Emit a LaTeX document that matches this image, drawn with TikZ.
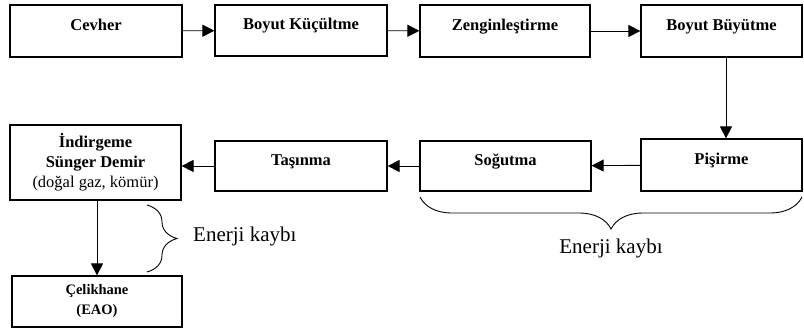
\documentclass[tikz,border=0pt]{standalone}
\usepackage{fontspec}
\setmainfont{Liberation Serif}
\usetikzlibrary{arrows.meta,decorations.pathreplacing}
\begin{document}
\begin{tikzpicture}[x=1pt,y=-1pt,
  box/.style={draw, line width=1.2pt, inner sep=0pt, font=\fontsize{16.5}{20}\selectfont\bfseries},
  one/.style={text height=12pt, text depth=13pt},
  arr/.style={line width=0.9pt, -{Triangle[length=12pt,width=12pt]}},
  brc/.style={decorate, decoration={brace, amplitude=#1}, line width=0.9pt},
  lbl/.style={font=\fontsize{21}{25}\selectfont, inner sep=0pt}]
\useasboundingbox (0,0) rectangle (804,332);
% row 1
\node[box,one,minimum width=172pt,minimum height=52pt] (cevher) at (96,31) {Cevher};
\node[box,one,minimum width=172pt,minimum height=51pt] (kucult) at (301,30.5) {Boyut Küçültme};
\node[box,one,minimum width=170pt,minimum height=52pt] (zengin) at (505,31) {Zenginleştirme};
\node[box,one,minimum width=161pt,minimum height=52pt] (buyut) at (721.5,31) {Boyut Büyütme};
% row 2
\node[box,one,minimum width=161pt,minimum height=52pt] (pisir) at (721.5,165) {Pişirme};
\node[box,one,minimum width=171pt,minimum height=50pt] (sogut) at (505.5,166) {Soğutma};
\node[box,one,minimum width=172pt,minimum height=50pt] (tasin) at (301,166) {Taşınma};
\node[box,align=center,minimum width=171pt,minimum height=75pt] (indir) at (95.5,162.5)
  {İndirgeme\\Sünger Demir\\{\mdseries (doğal gaz, kömür)}};
% row 3
\node[box,align=center,font=\fontsize{14.5}{20}\selectfont\bfseries,minimum width=170pt,minimum height=51pt] (celik) at (97,301.5)
  {Çelikhane\\(EAO)};
% connectors
\draw[arr] (cevher) -- (kucult);
\draw[arr] (kucult) -- (zengin);
\draw[arr] (zengin) -- (buyut);
\draw[arr] ([xshift=4.5pt]buyut.south) -- ([xshift=4.5pt]pisir.north);
\draw[arr] (pisir) -- (sogut);
\draw[arr] (sogut) -- (tasin);
\draw[arr] (tasin.west) -- (tasin.west -| indir.east);
\draw[arr] (indir.south -| celik.north) -- (celik.north);
% braces
\draw[brc=30pt] (147,205) -- (147,272);
\node[lbl, anchor=base west] (ek1) at (193,241) {Enerji kaybı};
\draw[brc=32pt] (802,197) -- (420,197);
\node[lbl, anchor=base] (ek2) at (611,253) {Enerji kaybı};
\end{tikzpicture}
\end{document}
